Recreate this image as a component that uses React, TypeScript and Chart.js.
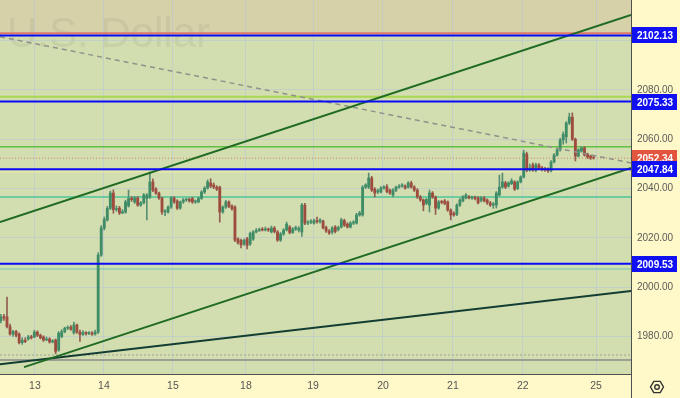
import React, { useEffect, useRef } from "react";
import { Chart, registerables } from "chart.js";
Chart.register(...registerables);

// ---- candle data (hourly) ----
const opens = [
  1986.5, 1988, 1988, 1984, 1981, 1982, 1981, 1977.5, 1978.5, 1979, 1979.8, 1979.8, 1981.8, 1980.5, 1979.8, 1978.6, 1979, 1977.8, 1978.6, 1974.5,
  1980, 1982, 1983.4, 1983.8, 1981.5, 1984.7, 1981.8, 1980.8, 1981.6, 1981.2, 1981.4, 1981, 1981.8, 2013, 2024, 2027.3, 2032, 2038.2, 2031.5, 2032.1,
  2030.1, 2030.5, 2033, 2036, 2034.6, 2036.2, 2033.3, 2034.2, 2036, 2036.5, 2042.7, 2039.8, 2038.2, 2036.2, 2030.5, 2030.5, 2032.5, 2036.2, 2035, 2032.1,
  2034.6, 2035.4, 2035.6, 2036, 2034.6, 2034.6, 2036, 2038.6, 2040.2, 2042.3, 2041.5, 2040.6, 2040.6, 2030.5, 2032.5, 2034.6, 2033, 2032.5, 2019.6, 2019,
  2017.5, 2019.6, 2017.5, 2019.5, 2022.4, 2023, 2023.4, 2023.2, 2023.6, 2022.4, 2024, 2022.4, 2019.1, 2021.6, 2023.2, 2024.4, 2022.2, 2023.6, 2023.2, 2022.4,
  2033.3, 2026, 2026.4, 2026, 2027, 2026.6, 2026.8, 2024.2, 2022.8, 2022.4, 2024.4, 2023.4, 2024.4, 2027, 2025.6, 2024.4, 2026, 2026, 2029.3, 2029.3,
  2040.6, 2040.6, 2044.3, 2039.8, 2038.6, 2038.6, 2040.2, 2040.8, 2039.4, 2037.4, 2039.4, 2040.6, 2041, 2041, 2040.6, 2042.3, 2040.6, 2039.4, 2036.6, 2035.4,
  2034, 2033.3, 2038.2, 2036.6, 2032.1, 2034.6, 2035, 2034.6, 2031.3, 2030, 2029.5, 2033.3, 2035, 2036.2, 2036.6, 2036.2, 2036.4, 2036.2, 2035.2, 2036.2,
  2035.4, 2034.2, 2033.3, 2033.3, 2037.4, 2040.6, 2042.3, 2041, 2042, 2042.7, 2040, 2042.7, 2044.7, 2054, 2047.5, 2049.6, 2047.5, 2049.6, 2048.4, 2048,
  2048, 2047.2, 2050.8, 2053.6, 2055.7, 2059.7, 2061, 2066.6, 2069, 2060, 2053.2, 2055.2, 2056.5, 2054, 2053.2, 2052.8,
];
const highs = [
  1989, 1989, 1996, 1985, 1982.5, 1982.5, 1981.5, 1979.5, 1979.5, 1980.5, 1980.5, 1982.5, 1982.3, 1981, 1980.3, 1979.8, 1979.5, 1978.8, 1979, 1982,
  1982.8, 1983.8, 1984.3, 1984.5, 1985.9, 1985, 1982.6, 1982.4, 1982, 1982, 1982, 1982.6, 2014, 2025, 2028.5, 2032.8, 2039, 2039.5, 2033, 2032.8,
  2031.5, 2035.3, 2039.4, 2036.8, 2036.8, 2036.8, 2034.8, 2038, 2038, 2046.7, 2044, 2040.4, 2038.6, 2036.6, 2031.5, 2033, 2036.8, 2036.8, 2035.5, 2035,
  2036, 2036, 2036.2, 2036.5, 2035.4, 2036.6, 2039.2, 2040.8, 2043.5, 2044, 2042.3, 2041.2, 2041, 2033, 2035.2, 2035, 2033.4, 2033, 2020, 2019.5,
  2019.6, 2020.2, 2022.4, 2023, 2023.8, 2024, 2024.2, 2024.4, 2024, 2024.8, 2024.6, 2023, 2022.2, 2023.8, 2026.4, 2025, 2024.2, 2024.8, 2024.6, 2034,
  2034, 2027, 2027.4, 2027.6, 2028.4, 2027.8, 2027.2, 2024.8, 2023.4, 2024.6, 2025, 2024.8, 2028, 2027.6, 2026.2, 2026.6, 2027, 2030, 2030.8, 2041.2,
  2042, 2046.3, 2045, 2040.4, 2039.8, 2040.8, 2041.2, 2041.6, 2039.8, 2040, 2041, 2041.6, 2042, 2041.5, 2042.8, 2043, 2041.2, 2040, 2037.2, 2035.8,
  2036, 2039.4, 2038.8, 2037, 2035.2, 2035.2, 2035.6, 2035, 2031.8, 2030.6, 2033.8, 2036, 2037.2, 2038, 2037.2, 2037, 2037, 2036.8, 2036.8, 2036.8,
  2035.8, 2034.8, 2034.4, 2038.8, 2045.5, 2046.3, 2043, 2042.8, 2044, 2043.2, 2043.2, 2045.2, 2055.6, 2054.8, 2050, 2050.4, 2050.4, 2050.2, 2049, 2048.6,
  2048.4, 2051.4, 2054.2, 2056.2, 2060.4, 2063, 2067.2, 2070.6, 2070.7, 2060.5, 2056.2, 2057, 2057, 2054.4, 2053.6, 2053,
];
const lows = [
  1985.5, 1986.5, 1983.5, 1980.5, 1980, 1979.8, 1977, 1976.8, 1977.5, 1978.5, 1979, 1979.5, 1980, 1979, 1978, 1978.3, 1977.3, 1977.4, 1973, 1974,
  1979.5, 1981.5, 1982.8, 1982.5, 1981, 1981.3, 1978, 1980.4, 1980.6, 1980.8, 1980.4, 1980.6, 1981.2, 2012.5, 2023.2, 2026.8, 2031.5, 2030, 2030.8, 2029.5,
  2029.8, 2030, 2032.5, 2034.8, 2034, 2032.8, 2032.8, 2033.8, 2027.3, 2036, 2038.8, 2037.6, 2035.6, 2029.5, 2029, 2030, 2032, 2034, 2031.5, 2031.6,
  2034, 2034.8, 2034.5, 2034, 2034, 2034.2, 2035.6, 2038, 2039.8, 2040.4, 2040, 2039.2, 2026.4, 2030, 2032, 2032.3, 2031.3, 2018.5, 2017.5, 2015.9,
  2017, 2015.5, 2017, 2019, 2022, 2022.6, 2022.8, 2022.8, 2022.6, 2022, 2022, 2018.6, 2018.6, 2021, 2022.8, 2021.6, 2021.8, 2023, 2022.4, 2020.6,
  2025.4, 2025.4, 2025.8, 2025.6, 2026, 2026, 2023.6, 2022.2, 2021.4, 2021.6, 2022, 2022.8, 2024, 2024.6, 2024, 2024, 2025.4, 2025.6, 2028.8, 2028.8,
  2040, 2040, 2038.8, 2036.6, 2038, 2038.2, 2039.8, 2038.2, 2037.6, 2036.6, 2038.8, 2040.2, 2040.6, 2039.8, 2040.2, 2040.2, 2038.8, 2036, 2034.8, 2031,
  2033.5, 2030.5, 2036, 2029.5, 2031.6, 2033.8, 2033.4, 2030.8, 2027.3, 2028.8, 2029, 2032.8, 2034.6, 2035.8, 2035.8, 2035.6, 2035.4, 2033.8, 2034.6, 2034.6,
  2033.6, 2032.8, 2032, 2032.1, 2037, 2040.2, 2040, 2040.6, 2041.6, 2039.2, 2039.6, 2042.3, 2044.3, 2046.8, 2047, 2047, 2046.8, 2047.8, 2047.2, 2047,
  2046.6, 2046.8, 2050.4, 2053.2, 2055.2, 2058, 2058.5, 2066, 2059.5, 2051.2, 2052.8, 2054.8, 2053.2, 2052.2, 2051.8, 2052,
];
const closes = [
  1988, 1987.5, 1984, 1981, 1982, 1980.5, 1977.5, 1978.5, 1978, 1979.8, 1979.5, 1981.8, 1980.5, 1979.5, 1978.6, 1979, 1977.8, 1978.2, 1974, 1981.4,
  1982, 1983.4, 1983.8, 1983, 1984.7, 1981.8, 1980.8, 1981.6, 1981.2, 1981.4, 1981, 1981.8, 2013, 2024, 2027.5, 2032, 2038.2, 2031.5, 2031.8, 2030.1,
  2030.6, 2034.6, 2036, 2035.5, 2036.2, 2033.3, 2034.2, 2037.4, 2037.4, 2042.7, 2039.4, 2038.2, 2036.2, 2030.5, 2031, 2032.5, 2036.2, 2034.6, 2032.1, 2034.6,
  2035.4, 2035.6, 2035, 2034.6, 2034.8, 2036, 2038.6, 2040.2, 2042.7, 2041, 2040.6, 2039.8, 2030.5, 2032.5, 2034.6, 2032.8, 2031.8, 2019.1, 2018, 2017.2,
  2019, 2017, 2021.8, 2022.4, 2023, 2023.4, 2023.2, 2023.6, 2023.2, 2024, 2022.6, 2019.1, 2021.6, 2023.2, 2025.6, 2022.2, 2023.6, 2024.2, 2023.8, 2033.3,
  2026, 2026.4, 2026.8, 2027, 2026.6, 2027.2, 2024, 2022.8, 2022, 2024, 2022.6, 2024.2, 2027.3, 2025.2, 2024.4, 2026, 2026.4, 2029.3, 2030.1, 2040.6,
  2041.5, 2044.3, 2039.4, 2038.2, 2039.2, 2040.2, 2040.6, 2038.8, 2038.2, 2039.4, 2040.6, 2041, 2041.5, 2040.2, 2042.3, 2040.6, 2039.4, 2036.6, 2035.4, 2033.3,
  2035.6, 2038.2, 2036.6, 2032.1, 2034.6, 2034.4, 2034, 2031.3, 2029.3, 2029.3, 2033.3, 2035.4, 2036.6, 2037.4, 2036.2, 2036.4, 2036, 2034.2, 2036.2, 2035,
  2034.2, 2033.3, 2033.8, 2038.2, 2040.6, 2042.7, 2040.6, 2042.3, 2043.2, 2039.8, 2042.7, 2044.7, 2054.4, 2047.5, 2048.4, 2047.5, 2049.6, 2048.4, 2048, 2047.6,
  2047.2, 2050.8, 2053.6, 2055.7, 2059.7, 2062, 2066.6, 2069, 2060, 2053.2, 2055.7, 2056.5, 2053.6, 2052.8, 2052.4, 2052.34,
];

// ---- axes ----
const dayTickPos = [11.2, 33.9, 56.6, 80.6, 102.7, 125.7, 148.7, 171.7, 195.8];
const dayTickLabels = ["13", "14", "15", "18", "19", "20", "21", "22", "25"];
const priceTicks = [1980, 2000, 2020, 2040, 2060, 2080, 2100];
const xRange = [-0.3, 207.3];
const yRange = [1964.8, 2116.5];

// ---- drawn levels ----
const blueLevels = [2102.13, 2075.33, 2047.84, 2009.53];
const lastPrice = 2052.34;
const tanZoneFrom = 2103.4;
const otherLevels = [
  { v: 2103.0, color: "#e07868", w: 2, dash: [] as number[] },
  { v: 2077.3, color: "#a9d752", w: 2, dash: [] as number[] },
  { v: 2057.0, color: "#62c043", w: 1.5, dash: [] as number[] },
  { v: 2046.8, color: "#f2efa6", w: 1, dash: [] as number[] },
  { v: 2036.6, color: "#4cc39b", w: 1.5, dash: [] as number[] },
  { v: 2007.4, color: "#6ec3b4", w: 1, dash: [] as number[] },
  { v: 1972.5, color: "#a0a090", w: 1, dash: [2, 2] },
  { v: 1970.5, color: "#8a8a88", w: 1.5, dash: [] as number[] },
];
const trendLines = [
  { pts: [[-0.3, 2026.4], [207.3, 2110.4]], color: "#1f6b22", w: 2, dash: [] as number[] },
  { pts: [[7.6, 1967.6], [207.3, 2048.4]], color: "#1f6b22", w: 2, dash: [] as number[] },
  { pts: [[-0.3, 1968.8], [207.3, 1998.5]], color: "#133d33", w: 2, dash: [] as number[] },
  { pts: [[-0.3, 2101.6], [207.3, 2050.4]], color: "#8f928a", w: 1.5, dash: [5, 4] },
];

const FONT = '"Liberation Sans", Arial, sans-serif';

const decorPlugin = {
  id: "decor",
  beforeDraw(chart: any) {
    const { ctx, chartArea: a, scales } = chart;
    const y = scales.y;
    ctx.save();
    ctx.fillStyle = "#fff9c9";
    ctx.fillRect(0, 0, chart.width, chart.height);
    ctx.fillStyle = "#d3deb0";
    ctx.fillRect(a.left, a.top, a.right - a.left, a.bottom - a.top);
    const yt = y.getPixelForValue(tanZoneFrom);
    ctx.fillStyle = "#d6d1a9";
    ctx.fillRect(a.left, a.top, a.right - a.left, yt - a.top);
    ctx.font = '42px "Liberation Sans", Arial, sans-serif';
    ctx.fillStyle = "rgba(110,110,95,0.11)";
    ctx.textBaseline = "alphabetic";
    ctx.fillText("U.S. Dollar", a.left + 7, a.top + 47);
    ctx.restore();
  },
  afterDraw(chart: any) {
    const { ctx, chartArea: a, scales } = chart;
    const y = scales.y;
    ctx.save();
    ctx.strokeStyle = "#505050";
    ctx.lineWidth = 1;
    ctx.beginPath();
    ctx.moveTo(Math.round(a.right) + 0.5, 0);
    ctx.lineTo(Math.round(a.right) + 0.5, chart.height);
    ctx.moveTo(0, Math.round(a.bottom) + 0.5);
    ctx.lineTo(a.right, Math.round(a.bottom) + 0.5);
    ctx.stroke();
    const box = (v: number, color: string) => {
      const py = Math.round(y.getPixelForValue(v));
      ctx.fillStyle = color;
      ctx.fillRect(Math.round(a.right) + 1, py - 8, 45, 16);
      ctx.fillStyle = "#ffffff";
      ctx.font = "bold 10px " + FONT;
      ctx.textBaseline = "middle";
      ctx.textAlign = "left";
      ctx.fillText(v.toFixed(2), Math.round(a.right) + 6, py + 1);
    };
    box(lastPrice, "#e2553f");
    blueLevels.forEach((v) => box(v, "#1010f2"));
    // settings icon
    const cx = Math.round(a.right) + 26, cy = Math.round(a.bottom) + 13;
    ctx.strokeStyle = "#333";
    ctx.lineWidth = 1.4;
    ctx.beginPath();
    for (let k = 0; k < 6; k++) {
      const ang = (Math.PI / 3) * k;
      const px = cx + 6.5 * Math.cos(ang), pyy = cy + 6.5 * Math.sin(ang);
      if (k === 0) ctx.moveTo(px, pyy); else ctx.lineTo(px, pyy);
    }
    ctx.closePath();
    ctx.stroke();
    ctx.beginPath();
    ctx.arc(cx, cy, 2.3, 0, Math.PI * 2);
    ctx.stroke();
    ctx.restore();
  },
};

export default function App() {
  const ref = useRef<HTMLCanvasElement | null>(null);
  useEffect(() => {
    if (!ref.current) return;
    const idx = opens.map((_, i) => i);
    const isUp = idx.map((i) => closes[i] >= opens[i]);
    const bodyColors = isUp.map((u) => (u ? "#3f8d66" : "#9e4c3e"));
    const wickColors = isUp.map((u) => (u ? "#578f74" : "#935c50"));
    const hline = (v: number) => [
      { x: xRange[0], y: v },
      { x: xRange[1], y: v },
    ];
    const lineDs = (data: any[], color: string, w: number, dash: number[], order: number) => ({
      type: "line",
      data,
      borderColor: color,
      borderWidth: w,
      borderDash: dash,
      pointRadius: 0,
      fill: false,
      tension: 0,
      order,
    });
    const datasets: any[] = [
      ...otherLevels.map((l) => lineDs(hline(l.v), l.color, l.w, l.dash, 30)),
      {
        type: "bar",
        data: idx.map((i) => ({ x: i, y: [lows[i], highs[i]] })),
        backgroundColor: wickColors,
        barThickness: 1,
        grouped: false,
        borderWidth: 0,
        order: 25,
      },
      {
        type: "bar",
        data: idx.map((i) => ({ x: i, y: [opens[i], closes[i]] })),
        backgroundColor: bodyColors,
        barThickness: 2.2,
        grouped: false,
        borderWidth: 0,
        minBarLength: 1,
        order: 24,
      },
      lineDs(hline(lastPrice), "#d77a5e", 1, [1, 2], 10),
      ...trendLines.map((t) => lineDs(t.pts.map((p) => ({ x: p[0], y: p[1] })), t.color, t.w, t.dash, 8)),
      ...blueLevels.map((v) => lineDs(hline(v), "#0a0af5", 2, [], 5)),
    ];
    const chart = new Chart(ref.current, {
      type: "bar",
      data: { datasets },
      plugins: [decorPlugin],
      options: {
        animation: false,
        responsive: true,
        maintainAspectRatio: false,
        devicePixelRatio: 1,
        layout: { padding: 0 },
        plugins: { legend: { display: false }, tooltip: { enabled: false } },
        events: [],
        scales: {
          x: {
            type: "linear",
            min: xRange[0],
            max: xRange[1],
            offset: false,
            afterBuildTicks: (s: any) => {
              s.ticks = dayTickPos.map((v) => ({ value: v }));
            },
            afterFit: (s: any) => {
              s.height = 24;
              s.paddingLeft = 0;
              s.paddingRight = 0;
            },
            ticks: {
              autoSkip: false,
              maxRotation: 0,
              color: "#555",
              padding: 6,
              font: { family: FONT, size: 10.5 },
              callback: (_v: any, i: number) => dayTickLabels[i],
            },
            grid: { color: "rgba(185,198,212,0.6)", drawTicks: false, offset: false },
            border: { display: false },
          },
          y: {
            type: "linear",
            position: "right",
            min: yRange[0],
            max: yRange[1],
            afterBuildTicks: (s: any) => {
              s.ticks = priceTicks.map((v) => ({ value: v }));
            },
            afterFit: (s: any) => {
              s.width = 49;
              s.paddingTop = 0;
              s.paddingBottom = 0;
            },
            ticks: {
              color: "#5a5a5a",
              padding: 6,
              font: { family: FONT, size: 10 },
              callback: (v: any) => Number(v).toFixed(2),
            },
            grid: { color: "rgba(185,198,212,0.6)", drawTicks: false },
            border: { display: false },
          },
        },
      } as any,
    } as any);
    return () => chart.destroy();
  }, []);
  return (
    <div style={{ position: "fixed", left: 0, top: 0, width: 680, height: 398 }}>
      <canvas ref={ref} />
    </div>
  );
}
